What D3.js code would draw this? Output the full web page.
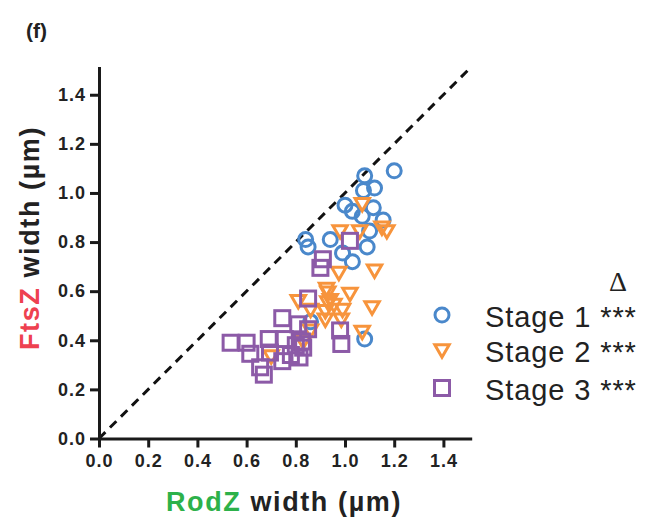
<!DOCTYPE html>
<html>
<head>
<meta charset="utf-8">
<script src="https://cdn.jsdelivr.net/npm/d3@7"></script>
<style>
  body { margin: 0; background: #fff; }
  text { font-family: "Liberation Sans", Arial, sans-serif; }
</style>
</head>
<body>
<div class="wrapper"></div>
<script>
const w = 646
const h = 523

// RodZ width vs FtsZ width (um)
const stage1 = [
  [1.20, 1.09], [1.08, 1.07], [1.12, 1.02], [1.075, 1.01], [1.00, 0.95], [1.03, 0.925],
  [1.115, 0.94], [1.07, 0.905], [1.155, 0.89], [1.10, 0.845], [0.84, 0.81], [0.85, 0.78],
  [0.94, 0.81], [1.09, 0.78], [0.99, 0.755], [1.03, 0.72], [0.86, 0.475], [1.08, 0.405]
]
const stage2 = [
  [1.07, 0.96], [0.98, 0.85], [1.06, 0.85], [1.17, 0.85], [1.15, 0.865], [0.975, 0.68],
  [1.12, 0.69], [0.925, 0.615], [0.93, 0.60], [1.02, 0.595], [0.81, 0.565], [0.94, 0.57],
  [0.955, 0.55], [1.11, 0.54], [0.86, 0.53], [0.92, 0.525], [0.99, 0.53], [0.92, 0.49],
  [0.985, 0.49], [0.86, 0.445], [1.07, 0.44], [0.70, 0.34], [0.93, 0.56], [0.83, 0.40]
]
const stage3 = [
  [1.02, 0.805], [0.91, 0.73], [0.90, 0.695], [0.85, 0.57], [0.98, 0.44], [0.985, 0.385],
  [0.745, 0.49], [0.81, 0.465], [0.85, 0.445], [0.535, 0.39], [0.60, 0.39], [0.69, 0.405],
  [0.755, 0.405], [0.825, 0.395], [0.615, 0.345], [0.695, 0.35], [0.745, 0.315], [0.815, 0.33],
  [0.655, 0.29], [0.67, 0.26], [0.78, 0.34], [0.83, 0.37], [0.80, 0.38]
]
const xTicks = [0, 0.2, 0.4, 0.6, 0.8, 1.0, 1.2, 1.4]
const yTicks = [0, 0.2, 0.4, 0.6, 0.8, 1.0, 1.2, 1.4]
const stageNames = ["Stage 1 ***", "Stage 2 ***", "Stage 3 ***"]
const colors = ["#4a88cb", "#f7943c", "#8c5aa7"]

const xScale = d3.scaleLinear().domain([0, 1.515]).range([99, 471.7])
const yScale = d3.scaleLinear().domain([0, 1.515]).range([438.5, 66.5])

const svg = d3.select(".wrapper")
  .append("svg")
  .attr("width", w)
  .attr("height", h)

svg.append("text")
  .attr("x", 26)
  .attr("y", 38)
  .attr("font-size", 21)
  .attr("font-weight", "bold")
  .attr("fill", "#222")
  .text("(f)")

// identity line
svg.append("line")
  .attr("x1", xScale(0))
  .attr("y1", yScale(0))
  .attr("x2", xScale(1.5))
  .attr("y2", yScale(1.5))
  .attr("stroke", "#111")
  .attr("stroke-width", 3)
  .attr("stroke-dasharray", "9,6.5")

const triPath = d3.symbol(d3.symbolTriangle, 90)()

const drawStage = (data, i) => {
  const g = svg.append("g")
  const sel = g.selectAll("path").data(data).enter()
  if (i === 0) {
    sel.append("circle")
      .attr("cx", (d) => xScale(d[0]))
      .attr("cy", (d) => yScale(d[1]))
      .attr("r", 7)
      .attr("fill", "none")
      .attr("stroke", colors[i])
      .attr("stroke-width", 3)
  } else if (i === 1) {
    sel.append("path")
      .attr("d", triPath)
      .attr("transform", (d) => "translate(" + xScale(d[0]) + "," + yScale(d[1]) + ") rotate(180)")
      .attr("fill", "none")
      .attr("stroke", colors[i])
      .attr("stroke-width", 3)
  } else {
    sel.append("rect")
      .attr("x", (d) => xScale(d[0]) - 7.5)
      .attr("y", (d) => yScale(d[1]) - 7.5)
      .attr("width", 15)
      .attr("height", 15)
      .attr("fill", "none")
      .attr("stroke", colors[i])
      .attr("stroke-width", 3)
  }
}
drawStage(stage1, 0)
drawStage(stage2, 1)
drawStage(stage3, 2)

const xAxis = d3.axisBottom(xScale).tickValues(xTicks).tickSize(9).tickSizeOuter(0).tickPadding(7)
  .tickFormat(d3.format(".1f"))
const yAxis = d3.axisLeft(yScale).tickValues(yTicks).tickSize(9).tickSizeOuter(0).tickPadding(4)
  .tickFormat(d3.format(".1f"))

const gx = svg.append("g")
  .attr("transform", "translate(0, " + yScale(0) + ")")
  .call(xAxis)
const gy = svg.append("g")
  .attr("transform", "translate(" + xScale(0) + ", 0)")
  .call(yAxis)

;[gx, gy].forEach((g) => {
  g.select(".domain").attr("stroke", "#1a1a1a").attr("stroke-width", 3)
  g.selectAll(".tick line").attr("stroke", "#1a1a1a").attr("stroke-width", 3)
  g.selectAll(".tick text")
    .attr("fill", "#222")
    .attr("font-size", 18)
    .attr("font-weight", "bold")
    .attr("letter-spacing", 1)
    .style("font-family", "'Liberation Sans', Arial, sans-serif")
})

// axis titles
const xt = svg.append("text")
  .attr("x", 284)
  .attr("y", 511)
  .attr("text-anchor", "middle")
  .attr("font-size", 27)
  .attr("font-weight", "bold")
  .attr("letter-spacing", 1.6)
  .attr("fill", "#222")
xt.append("tspan").attr("fill", "#2db14a").text("RodZ")
xt.append("tspan").text(" width (µm)")

const yt = svg.append("text")
  .attr("transform", "translate(39, 238) rotate(-90)")
  .attr("text-anchor", "middle")
  .attr("font-size", 27)
  .attr("font-weight", "bold")
  .attr("letter-spacing", 1.6)
  .attr("fill", "#222")
yt.append("tspan").attr("fill", "#ee4150").text("FtsZ")
yt.append("tspan").text(" width (µm)")

// legend
svg.append("text")
  .attr("x", 618)
  .attr("y", 291)
  .attr("text-anchor", "middle")
  .attr("font-size", 28)
  .attr("fill", "#222")
  .style("font-family", "'Liberation Serif', serif")
  .text("Δ")

const legY = [315, 349, 388]
const legBase = [327, 362, 400]
stageNames.forEach((name, i) => {
  if (i === 0) {
    svg.append("circle").attr("cx", 442).attr("cy", legY[i]).attr("r", 7)
      .attr("fill", "none").attr("stroke", colors[i]).attr("stroke-width", 3)
  } else if (i === 1) {
    svg.append("path").attr("d", triPath)
      .attr("transform", "translate(442," + legY[i] + ") rotate(180)")
      .attr("fill", "none").attr("stroke", colors[i]).attr("stroke-width", 3)
  } else {
    svg.append("rect").attr("x", 434.5).attr("y", legY[i] - 7.5).attr("width", 15).attr("height", 15)
      .attr("fill", "none").attr("stroke", colors[i]).attr("stroke-width", 3)
  }
  svg.append("text")
    .attr("x", 485)
    .attr("y", legBase[i])
    .attr("font-size", 29)
    .attr("letter-spacing", 0.9)
    .attr("fill", "#222")
    .text(name)
})
</script>
</body>
</html>
